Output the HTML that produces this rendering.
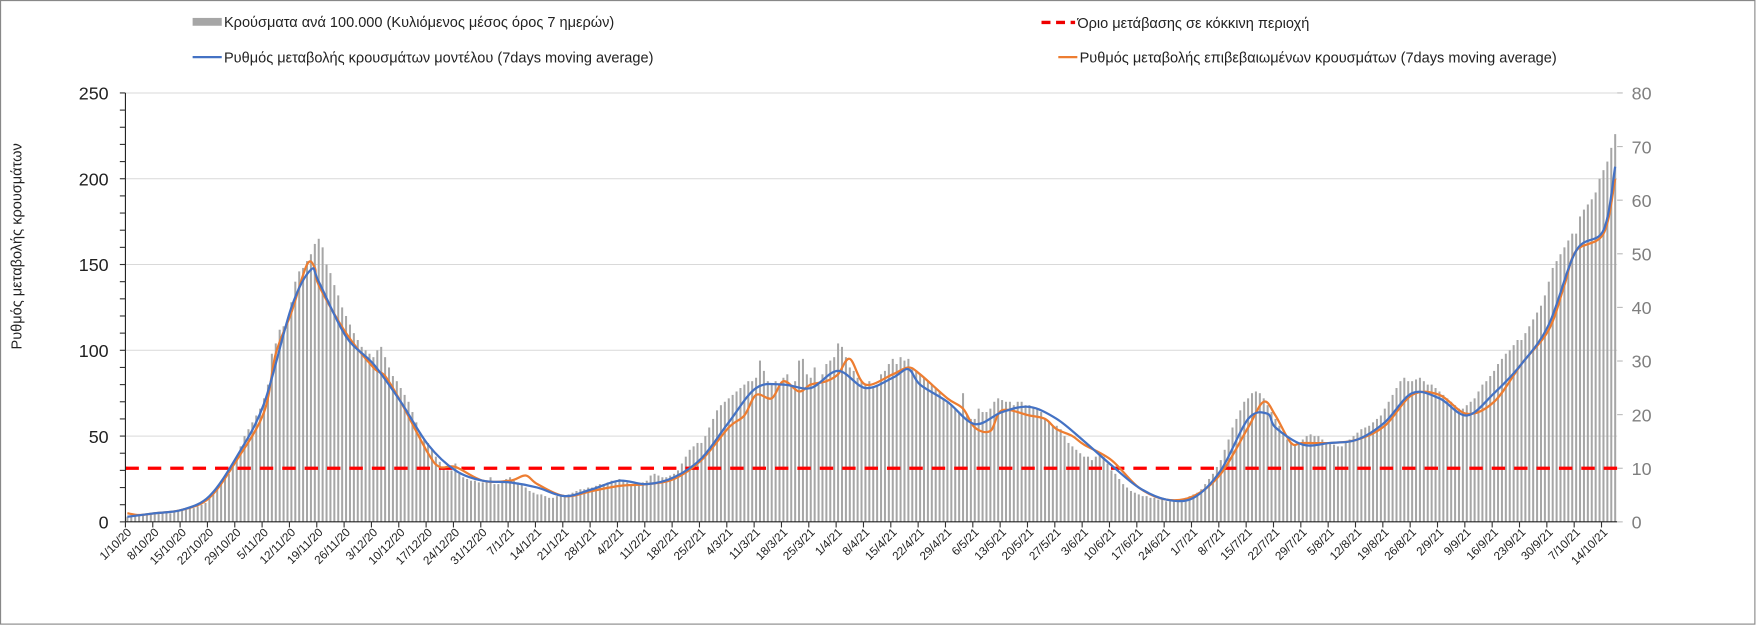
<!DOCTYPE html>
<html><head><meta charset="utf-8"><style>
body{margin:0;background:#fff;}
svg{display:block;font-family:"Liberation Sans",sans-serif;}
</style></head><body>
<svg id="chart" width="1756" height="625" viewBox="0 0 1568 558.1" preserveAspectRatio="none">
<rect x="0.5" y="0.5" width="1566.5" height="556.8" fill="#fff" stroke="#888"/>
<g id="legend">
 <g><rect x="172" y="16" width="26" height="7" fill="#a6a6a6"/><text x="200" y="24" font-size="13" fill="#222">Κρούσματα ανά 100.000 (Κυλιόμενος μέσος όρος 7 ημερών)</text></g>
 <g><line x1="172" y1="51" x2="198" y2="51" stroke="#4472c4" stroke-width="2"/><text x="200" y="56" font-size="13" fill="#222">Ρυθμός μεταβολής κρουσμάτων μοντέλου (7days moving average)</text></g>
 <g><line x1="930" y1="20" x2="960" y2="20" stroke="#e00" stroke-width="3" stroke-dasharray="8,5"/><text x="962" y="25" font-size="13" fill="#222">Όριο μετάβασης  σε κόκκινη περιοχή</text></g>
 <g><line x1="945" y1="51" x2="962" y2="51" stroke="#ed7d31" stroke-width="2"/><text x="964" y="56" font-size="13" fill="#222">Ρυθμός μεταβολής επιβεβαιωμένων κρουσμάτων (7days moving average)</text></g>
</g>
<text transform="translate(19,220) rotate(-90)" text-anchor="middle" font-size="13" fill="#222">Ρυθμός μεταβολής κρουσμάτων</text>
<g id="grid"></g><g id="bars"></g><g id="lines"></g><g id="axes"></g>
</svg>
<script>
const bars = [
3,3,4,4,4,4,5, 5,5,5,6,5,6,6, 7,7,8,8,9,10,11, 14,16,19,22,25,28,32,
38,44,50,54,58,62,66, 72,80,98,104,112,114,118, 128,140,146,148,152,156,162,
165,160,150,145,138,132,125, 120,115,110,106,102,100,98, 96,100,102,96,90,85,82,
78,74,70,64,58,52,48, 46,42,38,35,32,30,30, 34,28,26,25,24,24,23,
23,24,26,22,22,24,25, 26,24,23,22,20,18,17, 16,16,15,14,14,15,16,
15,16,17,18,19,19,20, 20,21,22,22,23,24,24, 25,24,23,22,22,22,23,
24,27,28,27,26,26,27, 28,30,34,38,42,44,46, 46,50,55,60,65,68,70,
72,74,76,78,80,82,82, 84,94,88,82,80,82,80, 84,86,80,82,94,95,86,
84,90,80,86,92,94,96, 104,102,96,90,88,84,82, 80,82,78,80,86,88,92,
95,92,96,94,95,90,88, 86,84,82,80,78,76,72, 70,68,66,64,75,62,60,
60,66,64,64,66,70,72, 71,70,70,68,70,70,68, 68,67,66,64,60,58,56,
56,54,50,46,44,42,40, 38,38,36,38,40,38,34, 30,28,25,22,20,18,17,
16,15,15,14,14,13,13, 12,12,12,12,13,14,15, 16,17,19,22,25,28,32,
36,42,48,55,60,65,70, 72,75,76,75,72,68,64, 60,56,52,48,46,45,46,
48,50,51,50,50,48,46, 46,45,44,44,46,48,50, 52,54,55,56,58,60,62,
66,70,74,78,82,84,82, 82,83,84,82,80,80,78, 76,74,72,70,68,66,66,
68,70,72,76,80,82,85, 88,92,95,98,100,103,106, 106,110,114,118,122,126,132,
140,148,152,156,160,164,168, 168,178,182,185,188,192,200, 205,210,218,226];
const blueDays = [0,7,14,21,28,35,42,47,49,56,63,70,77,84,91,98,105,112,119,126,133,140,147,154,161,168,175,182,189,196,200,203,210,217,224,231,238,245,252,259,266,273,280,287,292,294,301,308,315,322,329,336,343,350,357,364,371,378,381];
const blueVals = [3,5,7,15,38,69,125,147,140,108,92,70,45,30,24,23,20,15,19,24,22,26,37,58,78,80,78,88,78,84,89,80,70,57,64,67,60,47,33,20,13,14,30,60,63,55,45,46,48,58,75,72,62,75,92,115,158,170,207];
const orangeDays = [0,3,7,14,21,28,35,38,42,46,48,49,56,63,66,70,77,80,84,91,98,102,105,112,119,126,133,140,147,154,158,161,165,168,172,175,179,182,185,189,196,200,203,210,214,217,221,224,231,235,238,242,245,252,259,266,273,280,287,291,294,298,301,308,315,322,329,336,343,350,357,364,368,371,378,381];
const orangeVals = [5,4,5,7,14,36,64,98,122,150,148,138,110,90,85,70,40,32,32,24,24,27,22,15,18,21,22,25,36,55,62,74,72,82,76,80,82,86,95,80,86,90,86,72,66,55,53,65,62,60,54,50,45,36,20,13,15,28,55,70,62,46,46,46,48,56,74,74,63,70,92,112,138,158,168,200];
const leftTicks = [0,50,100,150,200,250];
const rightTicks = [0,10,20,30,40,50,60,70,80];
const threshold = 10;
const startDate = new Date(2020,9,1);

const X0=112, X1=1444, Y0=466, Y1=83, LMAX=250, RMAX=80;
const N = bars.length, slot=(X1-X0)/N;
const xd = d => X0 + (d+0.5)*slot;
const yl = v => Y0 - v/LMAX*(Y0-Y1);
const yr = v => Y0 - v/RMAX*(Y0-Y1);
const NS="http://www.w3.org/2000/svg";
function mk(tag, attrs, parent){const e=document.createElementNS(NS,tag);for(const k in attrs)e.setAttribute(k,attrs[k]);parent.appendChild(e);return e;}

const gg=document.getElementById('grid');
leftTicks.forEach(v=>{ if(v>0){const g=mk('line',{x1:X0,x2:X1,y1:yl(v),y2:yl(v),stroke:'#d9d9d9','stroke-width':0.9},gg);
 
 }});

const gb=document.getElementById('bars');
bars.forEach((v,i)=>{
 const r=mk('rect',{x:(xd(i)-0.9).toFixed(2),y:yl(v).toFixed(2),width:1.8,height:(Y0-yl(v)).toFixed(2),fill:'#a6a6a6'},gb);
 
 
});
function smooth(days,vals){
 const p=days.map((d,i)=>[xd(d),yl(vals[i])]);
 let s=`M${p[0][0]},${p[0][1]}`;
 for(let i=0;i<p.length-1;i++){
  const a=p[i-1]||p[i],b=p[i],c=p[i+1],d=p[i+2]||c;
  s+=` C${b[0]+(c[0]-a[0])/6},${b[1]+(c[1]-a[1])/6} ${c[0]-(d[0]-b[0])/6},${c[1]-(d[1]-b[1])/6} ${c[0]},${c[1]}`;
 }
 return s;
}
const gl=document.getElementById('lines');
const th=mk('line',{x1:X0,x2:X1,y1:yr(threshold),y2:yr(threshold),stroke:'#f00','stroke-width':3,'stroke-dasharray':'12,8'},gl);


const lo=mk('path',{d:smooth(orangeDays,orangeVals),fill:'none',stroke:'#ed7d31','stroke-width':2},gl);


const lb=mk('path',{d:smooth(blueDays,blueVals),fill:'none',stroke:'#4472c4','stroke-width':2},gl);



const ga=document.getElementById('axes');
mk('line',{x1:X0,x2:X0,y1:Y1,y2:Y0,stroke:'#222'},ga);
mk('line',{x1:X0,x2:X1,y1:Y0,y2:Y0,stroke:'#222'},ga);
for(let v=0;v<=LMAX;v+=10){mk('line',{x1:X0-5,x2:X0,y1:yl(v),y2:yl(v),stroke:'#333'},ga);}
rightTicks.forEach(v=>{mk('line',{x1:X1,x2:X1+5,y1:yr(v),y2:yr(v),stroke:'#bbb'},ga);});
leftTicks.forEach(v=>{const t=mk('text',{x:X0-15,y:yl(v)+6,'text-anchor':'end','font-size':16,fill:'#222'},ga);t.textContent=v;
 
 });
rightTicks.forEach(v=>{const t=mk('text',{x:X1+13,y:yr(v)+6,'font-size':16,fill:'#7f7f7f'},ga);t.textContent=v;
 
 });
for(let d=0;d<N;d+=7){
 const x=X0+d*slot;
 mk('line',{x1:x,x2:x,y1:Y0,y2:Y0+5,stroke:'#333'},ga);
 const dt=new Date(startDate.getTime()+d*86400000);
 const lab=dt.getDate()+'/'+(dt.getMonth()+1)+'/'+String(dt.getFullYear()).slice(2);
 const t=mk('text',{transform:`translate(${x+6},${Y0+10}) rotate(-45)`,'text-anchor':'end','font-size':10.5,fill:'#222'},ga);
 t.textContent=lab;
 
 
}
</script>
</body></html>
